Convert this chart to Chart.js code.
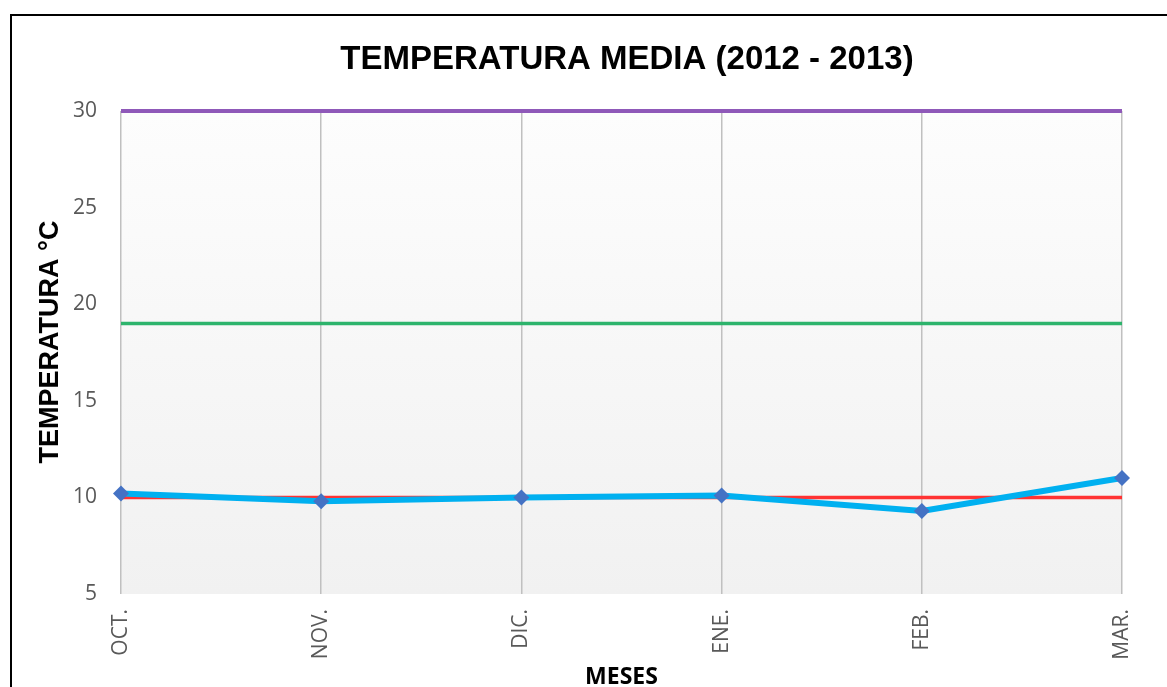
<!DOCTYPE html>
<html lang="es">
<head>
    <meta charset="UTF-8">
    <title>Temperatura media</title>
    <script src="https://cdn.jsdelivr.net/npm/chart.js@4.4.1/dist/chart.umd.min.js"></script>
    <style>
        body { margin: 0; background: #fff; overflow: hidden; width: 1167px; height: 687px; position: relative; }
        #frame { position: absolute; left: 10px; top: 14px; width: 1200px; height: 720px; border: 2px solid #000; }
        #wrap { position: absolute; left: 0; top: 0; width: 1167px; height: 701px; }
    </style>
</head>
<body>
    <div id="frame"></div>
    <div id="wrap"><canvas id="chart" width="1167" height="701"></canvas></div>

<script>
    // datos
    const meses = ['OCT.', 'NOV.', 'DIC.', 'ENE.', 'FEB.', 'MAR.'];
    const tempMedia = [10.2, 9.8, 10.0, 10.1, 9.3, 11.0];
    const lineaMax = [30, 30, 30, 30, 30, 30];
    const lineaOptima = [19, 19, 19, 19, 19, 19];
    const lineaMin = [10, 10, 10, 10, 10, 10];
    const yTicks = [5, 10, 15, 20, 25, 30];
    const titulo = 'TEMPERATURA MEDIA (2012 - 2013)';
    const tituloY = 'TEMPERATURA °C';

    // fondo degradado del area de trazado
    const plotBg = {
        id: 'plotBg',
        beforeDraw(chart) {
            const { ctx, chartArea: a } = chart;
            const g = ctx.createLinearGradient(0, a.top, 0, a.bottom);
            g.addColorStop(0, '#fdfdfd');
            g.addColorStop(1, '#f1f1f1');
            ctx.save();
            ctx.fillStyle = g;
            ctx.fillRect(a.left, a.top, a.right - a.left, a.bottom - a.top);
            ctx.restore();
        }
    };

    // titulo y titulo del eje Y (como en excel, no centrados sobre el area)
    const titulos = {
        id: 'titulos',
        afterDraw(chart) {
            const { ctx, chartArea: a } = chart;
            ctx.save();
            ctx.fillStyle = '#000';
            ctx.textAlign = 'center';
            ctx.textBaseline = 'middle';
            ctx.font = 'bold 33px "Liberation Sans", Arial, sans-serif';
            ctx.fillText(titulo, a.left + 506, 60);
            ctx.translate(51, a.top + 231);
            ctx.rotate(-Math.PI / 2);
            ctx.font = 'bold 27px "Liberation Sans", Arial, sans-serif';
            ctx.fillText(tituloY, 0, 0);
            ctx.restore();
        }
    };

    const ctx = document.getElementById('chart').getContext('2d');
    new Chart(ctx, {
        type: 'line',
        data: {
            labels: meses,
            datasets: [
                {
                    label: 'Temperatura media',
                    data: tempMedia,
                    borderColor: '#00b0f0',
                    borderWidth: 6,
                    pointStyle: 'rectRot',
                    pointRadius: 8,
                    pointBackgroundColor: '#4472c4',
                    pointBorderColor: '#4472c4',
                    pointBorderWidth: 0,
                    tension: 0,
                    clip: false,
                    order: 0
                },
                {
                    label: 'Max',
                    data: lineaMax,
                    borderColor: '#8f59b9',
                    borderWidth: 4,
                    pointRadius: 0,
                    clip: false,
                    order: 1
                },
                {
                    label: 'Optima',
                    data: lineaOptima,
                    borderColor: '#2db46c',
                    borderWidth: 3.5,
                    pointRadius: 0,
                    order: 1
                },
                {
                    label: 'Min',
                    data: lineaMin,
                    borderColor: '#ff3333',
                    borderWidth: 3.5,
                    pointRadius: 0,
                    order: 1
                }
            ]
        },
        options: {
            responsive: false,
            animation: false,
            layout: { padding: { left: 30, right: 45, top: 111, bottom: 0 } },
            plugins: {
                legend: { display: false },
                tooltip: { enabled: false },
                title: { display: false }
            },
            scales: {
                x: {
                    offset: false,
                    grid: { display: true, color: '#c0c0c0', lineWidth: 1.5, drawTicks: false },
                    border: { display: false },
                    ticks: {
                        color: '#595959',
                        font: { family: '"Open Sans", sans-serif', size: 21 },
                        minRotation: 90,
                        maxRotation: 90,
                        padding: 15
                    },
                    title: {
                        display: true,
                        text: 'MESES',
                        color: '#000',
                        font: { family: '"Open Sans", sans-serif', size: 23, weight: 'bold' },
                        padding: { top: 0, bottom: 10 }
                    },
                    afterFit(scale) { scale.height = 107; }
                },
                y: {
                    min: 5,
                    max: 30,
                    afterBuildTicks(scale) { scale.ticks = yTicks.map(v => ({ value: v })); },
                    grid: { display: false, drawTicks: false },
                    border: { display: false },
                    ticks: {
                        color: '#595959',
                        font: { family: '"Open Sans", sans-serif', size: 21 },
                        padding: 24
                    },
                    afterFit(scale) { scale.width = 91; }
                }
            }
        },
        plugins: [plotBg, titulos]
    });
</script>
</body>
</html>
